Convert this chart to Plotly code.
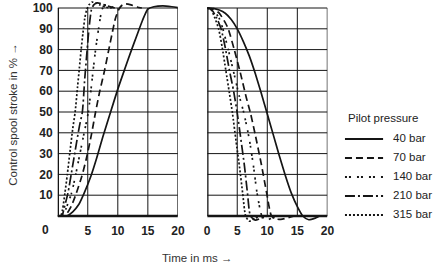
import plotly.graph_objects as go

# ---------------- data ----------------
SERIES = ["40 bar", "70 bar", "140 bar", "210 bar", "315 bar"]

# switching ON (stroke rising) – time in ms, stroke in %
on_40_t = [0, 1.5, 2.5, 3.5, 4.4, 5.5, 6.5, 7.5, 8.8, 10, 11.2, 12.3, 13.2, 14.1, 15, 16, 17.5, 19, 20]
on_40_y = [0, 0, 2, 5.5, 11, 19, 28, 38, 50, 61, 71, 80, 87, 94, 99.5, 100.6, 101, 100.6, 100.2]
on_70_t = [0, 0.9, 1.6, 2.3, 3.1, 4.0, 4.8, 5.6, 6.3, 7.0, 7.8, 8.5, 9.0, 9.6, 10.2, 10.7, 11.3, 12.2, 13.2, 14]
on_70_y = [0, 0, 1.5, 5, 11, 19, 28, 39, 50, 60, 70, 80, 87, 95, 99.5, 101.3, 102, 101.5, 100.5, 100]
on_140_t = [0, 0.8, 1.3, 2.3, 3.0, 3.7, 4.4, 5.1, 5.7, 6.3, 6.8, 7.4, 8.0, 8.8, 9.5]
on_140_y = [0, 0, 3, 11, 20, 30, 40, 50, 65, 80, 90, 99.5, 101.5, 100.8, 100]
on_210_t = [0, 0.7, 1.0, 1.7, 2.3, 3.0, 3.6, 4.1, 4.5, 4.9, 5.2, 5.6, 6.0, 6.6, 7.3, 8.2, 9.5]
on_210_y = [0, 0, 3, 11, 21, 33, 43, 50, 66, 80, 90, 99, 101.5, 102.5, 102, 101, 100]
on_315_t = [0, 0.5, 0.8, 1.2, 1.6, 2.0, 2.5, 2.9, 3.3, 3.6, 3.9, 4.2, 4.5, 4.8, 5.2, 5.7, 6.3, 7.0, 8.0, 9.0]
on_315_y = [0, 0, 3, 11, 20, 30, 42, 50, 62, 71, 80, 88, 95, 99, 101.5, 102.8, 102.5, 101.5, 100.4, 100]

# switching OFF (stroke falling)
off_40_t = [0, 1, 2, 3, 4, 5, 6, 7, 8, 9, 10, 11, 12, 13, 14, 15, 15.9, 16.9, 18, 18.8, 20]
off_40_y = [100, 99.8, 99, 97.5, 94.5, 90, 84, 77, 68.5, 59, 49, 39, 29, 19.5, 11, 4.5, 0, -1.8, -1, 0, 0]
off_70_t = [0, 1, 2, 3, 3.5, 4.5, 5.5, 6.5, 7.2, 8, 9, 9.9, 10.7, 11.5, 12.5, 13.5, 14.5]
off_70_y = [100, 99.5, 97.5, 93, 90, 80, 69, 57, 49.5, 39, 25, 11, 0, -1.5, -1.5, -0.8, 0]
off_140_t = [0, 1, 2, 2.6, 3.5, 4.5, 5.3, 6.1, 7, 7.7, 8.3, 9.1, 9.8, 10.8, 12]
off_140_y = [100, 99, 95, 90, 80, 68, 58, 49.5, 37, 24, 11, 0, -2, -1, 0]
off_210_t = [0, 0.8, 1.6, 2.3, 3, 3.7, 4.4, 5.0, 5.6, 6.2, 6.7, 7.2, 8, 9, 10]
off_210_y = [100, 99, 95, 90, 81, 70, 60, 49.5, 37, 24, 11, 0, -2, -1, 0]
off_315_t = [0, 0.7, 1.3, 1.9, 2.5, 3.1, 3.7, 4.2, 4.8, 5.4, 5.9, 6.4, 7, 8, 9]
off_315_y = [100, 99, 95, 90, 81, 70, 59, 49.5, 36, 23, 11, 0, -2.5, -1, 0]

X_TICKS_LEFT = [5, 10, 15, 20]
X_TICKS_RIGHT = [0, 5, 10, 15, 20]
Y_TICKS = [10, 20, 30, 40, 50, 60, 70, 80, 90, 100]
GRID_X = [5, 10, 15]
GRID_Y = [10, 20, 30, 40, 50, 60, 70, 80, 90, 100]

# ---------------- styles ----------------
W, H = 436, 266
INK = "#151515"
DASHES = {
    "40 bar": "solid",
    "70 bar": "7px,4px",
    "140 bar": "2px,2px,2px,6px",
    "210 bar": "10px,3px,2px,3px",
    "315 bar": "2px,2px",
}
LW = 1.7
TXT = "Liberation Sans, Arial, sans-serif"
TXT_SIZE = 11.5

on_data = {
    "40 bar": (on_40_t, on_40_y), "70 bar": (on_70_t, on_70_y), "140 bar": (on_140_t, on_140_y),
    "210 bar": (on_210_t, on_210_y), "315 bar": (on_315_t, on_315_y),
}
off_data = {
    "40 bar": (off_40_t, off_40_y), "70 bar": (off_70_t, off_70_y), "140 bar": (off_140_t, off_140_y),
    "210 bar": (off_210_t, off_210_y), "315 bar": (off_315_t, off_315_y),
}


def px(x):
    return x / W


def py(y):
    return 1 - y / H


fig = go.Figure()
for name in SERIES:
    t, y = on_data[name]
    fig.add_trace(go.Scatter(x=t, y=y, mode="lines", xaxis="x", yaxis="y", showlegend=False,
                             line=dict(color=INK, width=LW, dash=DASHES[name],
                                       shape="spline", smoothing=0.6)))
    t, y = off_data[name]
    fig.add_trace(go.Scatter(x=t, y=y, mode="lines", xaxis="x2", yaxis="y2", showlegend=False,
                             line=dict(color=INK, width=LW, dash=DASHES[name],
                                       shape="spline", smoothing=0.6)))

shapes = []
for xr, yr in (("x", "y"), ("x2", "y2")):
    for g in GRID_X:
        shapes.append(dict(type="line", xref=xr, yref=yr, x0=g, x1=g, y0=0, y1=100,
                           line=dict(color=INK, width=1), layer="below"))
    shapes.append(dict(type="line", xref=xr, yref=yr, x0=20, x1=20, y0=0, y1=100,
                       line=dict(color=INK, width=1.2), layer="below"))
    for g in GRID_Y:
        shapes.append(dict(type="line", xref=xr, yref=yr, x0=0, x1=20, y0=g, y1=g,
                           line=dict(color=INK, width=1), layer="below"))
    shapes.append(dict(type="line", xref=xr, yref=yr, x0=0, x1=0, y0=0, y1=100,
                       line=dict(color=INK, width=2.6), layer="below"))
    shapes.append(dict(type="line", xref=xr, yref=yr, x0=0, x1=20, y0=0, y1=0,
                       line=dict(color=INK, width=2.6), layer="below"))

annotations = []
# legend
annotations.append(dict(text="Pilot pressure", x=px(351), y=py(118), xref="paper", yref="paper",
                        xanchor="left", yanchor="middle", showarrow=False,
                        font=dict(family=TXT, size=TXT_SIZE, color="#222")))
leg_y = [139, 158, 177, 196, 215]
for name, ly in zip(SERIES, leg_y):
    shapes.append(dict(type="line", xref="paper", yref="paper", x0=px(350), x1=px(389),
                       y0=py(ly), y1=py(ly),
                       line=dict(color=INK, width=1.9, dash=DASHES[name])))
    annotations.append(dict(text=name, x=px(397), y=py(ly - 1.5), xref="paper", yref="paper",
                            xanchor="left", yanchor="middle", showarrow=False,
                            font=dict(family=TXT, size=TXT_SIZE, color="#222")))

# axis titles and corner zero
annotations.append(dict(text="Control spool stroke in % \u2192", x=px(10), y=py(114), xref="paper",
                        yref="paper", textangle=-90, showarrow=False, xanchor="center",
                        yanchor="middle", font=dict(family=TXT, size=TXT_SIZE, color="#333")))
annotations.append(dict(text="Time in ms \u2192", x=px(161), y=py(258), xref="paper", yref="paper",
                        showarrow=False, xanchor="left", yanchor="middle",
                        font=dict(family=TXT, size=TXT_SIZE, color="#333")))
annotations.append(dict(text="0", x=px(44), y=py(230), xref="paper", yref="paper",
                        showarrow=False, xanchor="center", yanchor="middle",
                        font=dict(family=TXT, size=12, color="#222", weight="bold")))

tickfont = dict(family=TXT, size=12, color="#222", weight="bold")
y_dom = [(H - 222.24) / H, (H - 0.1) / H]
y_rng = [-3, 103.8]

fig.update_layout(
    width=W, height=H, margin=dict(l=0, r=0, t=0, b=0),
    paper_bgcolor="white", plot_bgcolor="white",
    shapes=shapes, annotations=annotations,
    xaxis=dict(domain=[px(56), px(179)], range=[0, 20], anchor="y", tickvals=X_TICKS_LEFT,
               ticks="", showgrid=False, zeroline=False, showline=False, tickfont=tickfont),
    xaxis2=dict(domain=[px(209), px(332)], range=[0, 20], anchor="y2", tickvals=X_TICKS_RIGHT,
                ticks="", showgrid=False, zeroline=False, showline=False, tickfont=tickfont),
    yaxis=dict(domain=y_dom, range=y_rng, anchor="x", tickvals=Y_TICKS, ticks="",
               showgrid=False, zeroline=False, showline=False, tickfont=tickfont,
               ticklabelstandoff=4),
    yaxis2=dict(domain=y_dom, range=y_rng, anchor="x2", showticklabels=False, ticks="",
                showgrid=False, zeroline=False, showline=False),
)

fig.write_html("out.html")
